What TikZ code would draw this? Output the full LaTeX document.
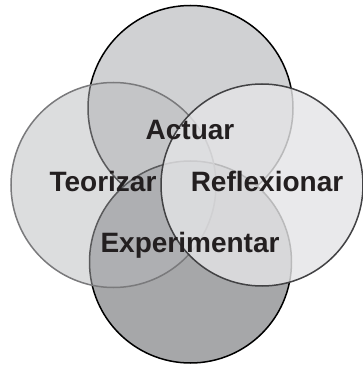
\documentclass[tikz,border=0pt]{standalone}
\usepackage{fontspec}
\setmainfont{Liberation Sans}
\begin{document}
\begin{tikzpicture}[x=1pt,y=1pt,
  lbl/.style={font=\fontsize{28}{31}\selectfont\bfseries, text=txt, anchor=base, inner sep=0pt},
  ring/.style={line width=1.5pt}]
\definecolor{txt}{HTML}{231F20}
\definecolor{ctop}{HTML}{D0D1D3}
\definecolor{cbot}{HTML}{A6A7A9}
\definecolor{cleft}{RGB}{184,185,188}
\definecolor{cright}{RGB}{228,228,230}
\definecolor{bleft}{HTML}{7A7A7C}
\definecolor{bright}{HTML}{424244}
\useasboundingbox (0,0) rectangle (363,365);
% top circle (Actuar)
\draw[ring, draw=black, fill=ctop] (190.5,257) circle (102.5);
% bottom circle (Experimentar)
\draw[ring, draw=black, fill=cbot] (190.5,103) circle (101);
% left circle (Teorizar)
\draw[ring, draw=bleft, fill=cleft, fill opacity=0.49] (113.5,180) circle (102.5);
% right circle (Reflexionar)
\draw[ring, draw=bright, fill=cright, fill opacity=0.81] (262,180) circle (101);
% labels
\node[lbl] (actuar) at (190,225.5) {Actuar};
\node[lbl] (teorizar) at (103,173.3) {Teorizar};
\node[lbl] (reflexionar) at (267,173.3) {Reflexionar};
\node[lbl] (experimentar) at (190,112) {Experimentar};
\end{tikzpicture}
\end{document}
